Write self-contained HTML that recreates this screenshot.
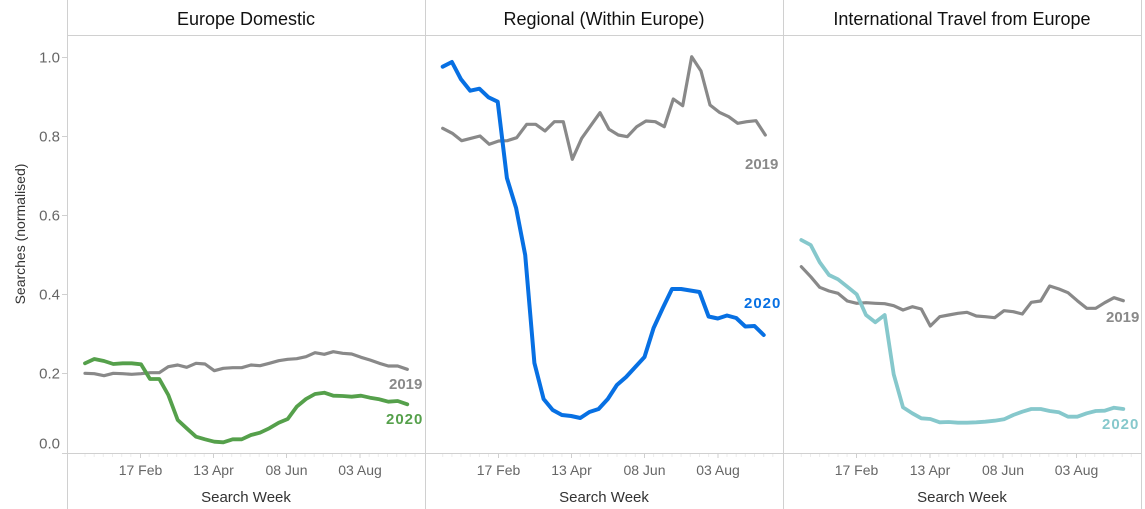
<!DOCTYPE html>
<html><head><meta charset="utf-8"><style>
html,body{margin:0;padding:0;background:#fff;}
svg{display:block;font-family:"Liberation Sans",sans-serif;}
</style></head><body>
<svg width="1145" height="509" viewBox="0 0 1145 509" xmlns="http://www.w3.org/2000/svg">
<rect width="1145" height="509" fill="#fff"/>
<!-- borders -->
<g stroke="#d0d0d0" stroke-width="1" fill="none">
<line x1="67.5" y1="0" x2="67.5" y2="509"/>
<line x1="425.5" y1="0" x2="425.5" y2="509"/>
<line x1="783.5" y1="0" x2="783.5" y2="509"/>
<line x1="1141.5" y1="0" x2="1141.5" y2="509"/>
<line x1="67" y1="35.5" x2="1142" y2="35.5"/>
<line x1="62" y1="453.5" x2="1142" y2="453.5"/>
<line x1="62" y1="57.5" x2="67" y2="57.5"/>
<line x1="62" y1="136.5" x2="67" y2="136.5"/>
<line x1="62" y1="215.5" x2="67" y2="215.5"/>
<line x1="62" y1="294.5" x2="67" y2="294.5"/>
<line x1="62" y1="373.5" x2="67" y2="373.5"/>
</g>
<!-- minor x ticks -->
<g stroke="#ececec" stroke-width="1">
<path d="M85,454v3M94.2,454v3M103.3,454v3M112.5,454v3M121.7,454v3M130.8,454v3M149.2,454v3M158.3,454v3M167.5,454v3M176.7,454v3M185.8,454v3M195,454v3M204.2,454v3M222.5,454v3M231.7,454v3M240.8,454v3M250,454v3M259.2,454v3M268.3,454v3M277.5,454v3M295.8,454v3M305,454v3M314.2,454v3M323.3,454v3M332.5,454v3M341.7,454v3M350.8,454v3M369.2,454v3M378.3,454v3M387.5,454v3M396.7,454v3M405.8,454v3M415,454v3"/>
<path d="M442.7,454v3M451.9,454v3M461,454v3M470.2,454v3M479.4,454v3M488.5,454v3M506.9,454v3M516.1,454v3M525.2,454v3M534.4,454v3M543.6,454v3M552.7,454v3M561.9,454v3M580.3,454v3M589.4,454v3M598.6,454v3M607.8,454v3M617,454v3M626.1,454v3M635.3,454v3M653.6,454v3M662.8,454v3M672,454v3M681.1,454v3M690.3,454v3M699.5,454v3M708.6,454v3M727,454v3M736.2,454v3M745.3,454v3M754.5,454v3M763.7,454v3M772.8,454v3"/>
<path d="M801.3,454v3M810.5,454v3M819.6,454v3M828.8,454v3M838,454v3M847.1,454v3M865.5,454v3M874.7,454v3M883.8,454v3M893,454v3M902.2,454v3M911.3,454v3M920.5,454v3M938.8,454v3M948,454v3M957.2,454v3M966.3,454v3M975.5,454v3M984.7,454v3M993.8,454v3M1012.2,454v3M1021.3,454v3M1030.5,454v3M1039.7,454v3M1048.8,454v3M1058,454v3M1067.2,454v3M1085.5,454v3M1094.7,454v3M1103.8,454v3M1113,454v3M1122.2,454v3M1131.3,454v3"/>
</g>
<g stroke="#cfcfcf" stroke-width="1">
<path d="M140.5,454v4M213.5,454v4M286.5,454v4M360,454v4M498.5,454v4M571.5,454v4M644.5,454v4M718,454v4M856.5,454v4M930,454v4M1003,454v4M1076.5,454v4"/>
</g>
<!-- titles -->
<g fill="#111" font-size="18" text-anchor="middle">
<text x="246" y="25">Europe Domestic</text>
<text x="604" y="25">Regional (Within Europe)</text>
<text x="962" y="25">International Travel from Europe</text>
</g>
<!-- y ticks -->
<g fill="#666" font-size="15" text-anchor="end">
<text x="60" y="62.5">1.0</text>
<text x="60" y="141.5">0.8</text>
<text x="60" y="220.5">0.6</text>
<text x="60" y="299.5">0.4</text>
<text x="60" y="378.5">0.2</text>
<text x="60" y="448.5">0.0</text>
</g>
<text transform="translate(25,234) rotate(-90)" fill="#333" font-size="14" text-anchor="middle">Searches (normalised)</text>
<!-- x ticks -->
<g fill="#666" font-size="14" text-anchor="middle">
<text x="140.5" y="475">17 Feb</text><text x="213.5" y="475">13 Apr</text><text x="286.5" y="475">08 Jun</text><text x="360" y="475">03 Aug</text>
<text x="498.5" y="475">17 Feb</text><text x="571.5" y="475">13 Apr</text><text x="644.5" y="475">08 Jun</text><text x="718" y="475">03 Aug</text>
<text x="856.5" y="475">17 Feb</text><text x="930" y="475">13 Apr</text><text x="1003" y="475">08 Jun</text><text x="1076.5" y="475">03 Aug</text>
</g>
<g fill="#333" font-size="15" text-anchor="middle">
<text x="246" y="502">Search Week</text>
<text x="604" y="502">Search Week</text>
<text x="962" y="502">Search Week</text>
</g>
<!-- series -->
<g fill="none" stroke-linejoin="round" stroke-linecap="round">
<polyline stroke="#898989" stroke-width="3.2" points="85,373.3 94.3,373.7 104,375.7 113.3,373.3 122.7,373.7 131.7,374.3 141,373.7 150,372.7 159.3,372.7 168.3,366.7 177.7,365 186.7,367.3 196,363.3 205,364 214.3,370.7 223.3,368.3 232.7,367.7 241.7,367.7 251,365 260,365.7 269.3,363.3 278.7,360.7 287.7,359.3 296.7,358.7 306,356.7 315,352.7 324.3,354.3 333.3,351.7 342.7,353.3 351.7,354 361,357.3 370,360 379.3,363.3 388.3,366 397.7,366 407.3,369.3"/>
<polyline stroke="#55a04b" stroke-width="3.8" points="85,363.3 94.3,359 104,361 113.3,364 122.7,363.3 131.7,363.3 141,364.3 150,379 159.3,379 168.3,395 177.7,420 186.7,428.3 196,436.7 205,439.3 214.3,441.7 223.3,442.3 232.7,439.3 241.7,439.3 251,435 260,432.7 269.3,428.3 278.7,422.7 287.7,419 296.7,406.7 306,399 315,394 324.3,392.7 333.3,395.7 342.7,396 351.7,396.7 361,395.7 370,397.7 379.3,399.3 388.3,401.7 397.7,401 407.3,404.3"/>
<polyline stroke="#898989" stroke-width="3.2" points="442.7,128.3 452.3,133.3 461.7,140.7 471,138.3 480,136 489.3,144.3 498.7,141 507.3,140.7 516.7,137.7 526.7,124.3 535.7,124.3 545,131 554.3,121.7 563.3,121.7 572.3,159.3 581.7,138.3 590.7,125.7 600,112.7 609,129.3 618.3,135 627.3,136.7 636.7,126.7 646,121 655.3,121.7 664.3,126.7 673.3,99 682.7,105.7 691.7,56.7 701,71 710,105 719.3,112.3 728.7,116.7 737.7,123.3 746.7,121.7 756,120.7 765.3,135"/>
<polyline stroke="#0770e3" stroke-width="4" points="442.7,66.7 451.9,62 461,79.3 470.2,90.7 479.4,88.7 488.5,97.3 497.7,101.7 506.9,178 516.1,208 525.2,255 534.4,363 543.6,399 552.7,410 561.9,415 571.1,416 580.3,418 589.4,412 598.6,409 607.8,399 616.9,385 626.1,377 635.3,367 644.5,357 653.6,328 662.8,308 672,289 681.1,289 690.3,290.5 699.5,292 708.6,316.5 717.8,318.5 727,315.5 736.2,318 745.3,326.5 754.5,326 763.7,335"/>
<polyline stroke="#898989" stroke-width="3.2" points="801.3,266.7 810.7,276.7 819.7,287.3 829,291 838,293.3 847.3,301 856.7,303.3 866,302.7 875.3,303.3 884.7,303.7 893.7,305.7 903,310 912.3,306.7 921.3,309 930.3,326 939.7,316.7 948.7,315 958,313.3 967,312.3 976.3,316 985.3,316.7 994.7,317.7 1004,310.7 1013.3,311.7 1022.3,314 1031.3,302.3 1040.7,301 1049.7,286 1059,289 1068,292.7 1077.3,300.7 1086.7,308.3 1095.7,308.3 1104.7,302.7 1114,297.7 1123.3,300.7"/>
<polyline stroke="#86c8cc" stroke-width="3.8" points="801.3,240 810.7,245 819.7,262.3 829,275 838,279.3 847.3,286.7 856.7,294.3 866,315 875.3,322.3 884.7,315 893.7,374.3 903,407.3 912.3,413.3 921.3,418.3 930.3,419 939.7,422.3 948.7,422 958,422.7 967,422.7 976.3,422.3 985.3,421.7 994.7,420.7 1004,419.3 1013.3,415 1022.3,411.7 1031.3,409 1040.7,409 1049.7,411 1059,412.3 1068,416.7 1077.3,416.7 1086.7,413.3 1095.7,411 1104.7,410.7 1114,407.7 1123.3,409"/>
</g>
<!-- series labels -->
<g font-size="15" font-weight="bold">
<text x="389" y="389" fill="#898989">2019</text>
<text x="386" y="424" fill="#55a04b" letter-spacing="1">2020</text>
<text x="745" y="169" fill="#898989">2019</text>
<text x="744" y="308" fill="#0770e3" letter-spacing="1">2020</text>
<text x="1106" y="322" fill="#898989">2019</text>
<text x="1102" y="429" fill="#86c8cc" letter-spacing="1">2020</text>
</g>
</svg>
</body></html>
